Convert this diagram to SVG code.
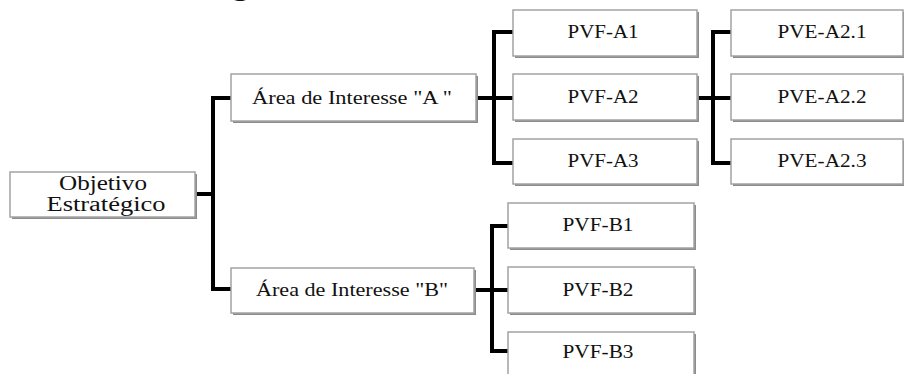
<svg xmlns="http://www.w3.org/2000/svg" width="904" height="374" viewBox="0 0 904 374">
<style>
.sh{fill:#8c8c8c}
.bx{fill:#fff;stroke:#a3a3a3;stroke-width:1.5}
.t{font-size:18px;fill:#111;text-anchor:middle}
.big{font-size:20px}
.c{fill:none;stroke:#000;stroke-width:4;stroke-linejoin:miter;stroke-linecap:butt}
</style>
<text x="10" y="-4" font-family="Liberation Serif, serif" font-size="26" fill="#111" textLength="289" lengthAdjust="spacingAndGlyphs">es, conforme a figura.</text>
<g id="connectors">
<path class="c" d="M195,194 H213 M231,98 H213 V289 H231"/>
<path class="c" d="M476,98 H494 M513,32 H494 V163 H513 M494,98 H513"/>
<path class="c" d="M697,98 H713 M731,32 H713 V163 H731 M713,98 H731"/>
<path class="c" d="M474,290 H492 M508,226 H492 V351 H508 M492,290 H508"/>
</g>
<g font-family="Liberation Serif, serif">
<g id="objetivo">
<rect class="sh" x="12" y="174" width="185" height="45"/>
<rect class="bx" x="10" y="172" width="185" height="45"/>
<text class="t big" x="103" y="190" font-family="Liberation Serif, serif" textLength="88" lengthAdjust="spacingAndGlyphs">Objetivo</text>
<text class="t big" x="106" y="211" font-family="Liberation Serif, serif" textLength="119" lengthAdjust="spacingAndGlyphs">Estratégico</text>
</g>
<g id="areaA">
<rect class="sh" x="233" y="76" width="245" height="47"/>
<rect class="bx" x="231" y="74" width="245" height="47"/>
<text class="t" x="352" y="104" font-family="Liberation Serif, serif" textLength="200" lengthAdjust="spacingAndGlyphs">Área de Interesse "A "</text>
</g>
<g id="areaB">
<rect class="sh" x="233" y="270" width="243" height="45"/>
<rect class="bx" x="231" y="268" width="243" height="45"/>
<text class="t" x="352" y="296" font-family="Liberation Serif, serif" textLength="192" lengthAdjust="spacingAndGlyphs">Área de Interesse "B"</text>
</g>
<g id="pvfA1">
<rect class="sh" x="515" y="12" width="184" height="46"/>
<rect class="bx" x="513" y="10" width="184" height="46"/>
<text class="t" x="603" y="38" font-family="Liberation Serif, serif" textLength="71" lengthAdjust="spacingAndGlyphs">PVF-A1</text>
</g>
<g id="pvfA2">
<rect class="sh" x="515" y="76" width="184" height="46"/>
<rect class="bx" x="513" y="74" width="184" height="46"/>
<text class="t" x="603" y="103" font-family="Liberation Serif, serif" textLength="71" lengthAdjust="spacingAndGlyphs">PVF-A2</text>
</g>
<g id="pvfA3">
<rect class="sh" x="515" y="141" width="184" height="45"/>
<rect class="bx" x="513" y="139" width="184" height="45"/>
<text class="t" x="603" y="167" font-family="Liberation Serif, serif" textLength="71" lengthAdjust="spacingAndGlyphs">PVF-A3</text>
</g>
<g id="pveA21">
<rect class="sh" x="733" y="12" width="172" height="46"/>
<rect class="bx" x="731" y="10" width="172" height="46"/>
<text class="t" x="822" y="38" font-family="Liberation Serif, serif" textLength="89" lengthAdjust="spacingAndGlyphs">PVE-A2.1</text>
</g>
<g id="pveA22">
<rect class="sh" x="733" y="76" width="172" height="46"/>
<rect class="bx" x="731" y="74" width="172" height="46"/>
<text class="t" x="822" y="103" font-family="Liberation Serif, serif" textLength="89" lengthAdjust="spacingAndGlyphs">PVE-A2.2</text>
</g>
<g id="pveA23">
<rect class="sh" x="733" y="141" width="172" height="45"/>
<rect class="bx" x="731" y="139" width="172" height="45"/>
<text class="t" x="822" y="167" font-family="Liberation Serif, serif" textLength="89" lengthAdjust="spacingAndGlyphs">PVE-A2.3</text>
</g>
<g id="pvfB1">
<rect class="sh" x="510" y="205" width="186" height="45"/>
<rect class="bx" x="508" y="203" width="186" height="45"/>
<text class="t" x="598" y="231" font-family="Liberation Serif, serif" textLength="71" lengthAdjust="spacingAndGlyphs">PVF-B1</text>
</g>
<g id="pvfB2">
<rect class="sh" x="510" y="269" width="186" height="46"/>
<rect class="bx" x="508" y="267" width="186" height="46"/>
<text class="t" x="598" y="296" font-family="Liberation Serif, serif" textLength="71" lengthAdjust="spacingAndGlyphs">PVF-B2</text>
</g>
<g id="pvfB3">
<rect class="sh" x="510" y="334" width="186" height="50"/>
<rect class="bx" x="508" y="332" width="186" height="50"/>
<text class="t" x="598" y="358" font-family="Liberation Serif, serif" textLength="71" lengthAdjust="spacingAndGlyphs">PVF-B3</text>
</g>
</g>
</svg>
